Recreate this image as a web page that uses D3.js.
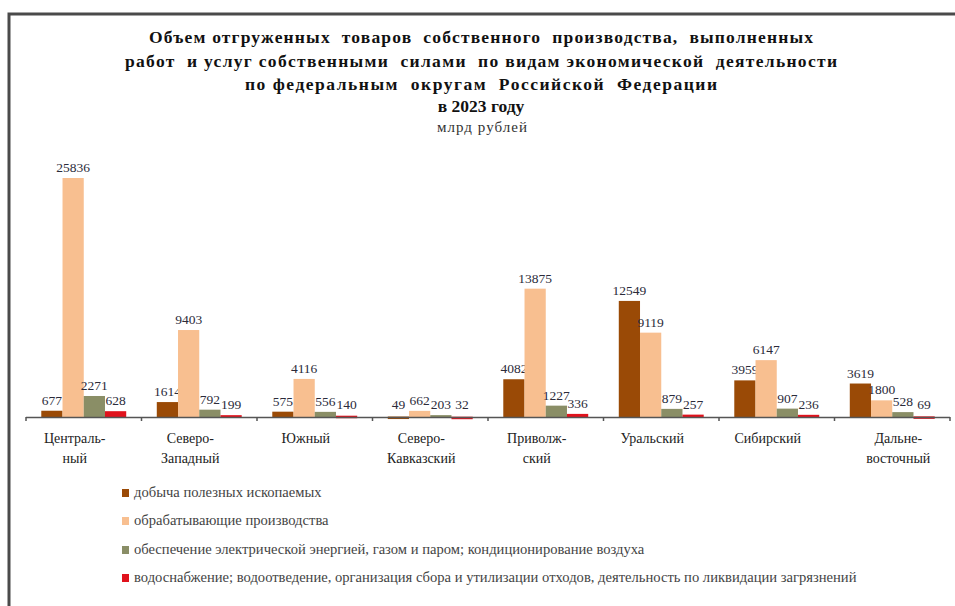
<!DOCTYPE html>
<html><head><meta charset="utf-8">
<script src="https://cdn.jsdelivr.net/npm/d3@7"></script>
<style>
html,body{margin:0;padding:0;background:#fff;}
svg{display:block;}
</style></head>
<body>
<svg id="chart" width="955" height="606"></svg>
<script>
const categories = ["Центральный","Северо-Западный","Южный","Северо-Кавказский","Приволжский","Уральский","Сибирский","Дальневосточный"];
const categoryLabels = [["Централь-","ный"],["Северо-","Западный"],["Южный"],["Северо-","Кавказский"],["Приволж-","ский"],["Уральский"],["Сибирский"],["Дальне-","восточный"]];
const seriesNames = [
  "добыча полезных ископаемых",
  "обрабатывающие производства",
  "обеспечение электрической энергией, газом и паром; кондиционирование воздуха",
  "водоснабжение; водоотведение, организация сбора и утилизации отходов, деятельность по ликвидации загрязнений"
];
const mining        = [677, 1614, 575, 49, 4082, 12549, 3959, 3619];
const manufacturing = [25836, 9403, 4116, 662, 13875, 9119, 6147, 1800];
const energy        = [2271, 792, 556, 203, 1227, 879, 907, 528];
const water         = [628, 199, 140, 32, 336, 257, 236, 69];
const seriesValues = [mining, manufacturing, energy, water];
const colors = ["#9a4a06", "#f8bf90", "#8a8e66", "#e0121c"];
const titleLines = [
  "Объем отгруженных  товаров  собственного  производства,  выполненных",
  "работ  и услуг собственными  силами  по видам экономической  деятельности",
  "по федеральным  округам  Российской  Федерации",
  "в 2023 году"
];
const unitLabel = "млрд рублей";

const svg = d3.select("#chart");
const serif = "'Liberation Serif','DejaVu Serif',serif";

// frame
svg.append("path").attr("d","M9,606 L9,14 L955,14").attr("fill","none").attr("stroke","#4a4a4a").attr("stroke-width",3);

// title
const tY = [43, 67, 90, 112];
const tW = [664, 712, 472, null];
titleLines.forEach((t,i)=>{
  const el = svg.append("text").attr("x",481).attr("y",tY[i]).attr("text-anchor","middle")
    .attr("font-family",serif).attr("font-weight","bold").attr("font-size",17.5)
    .attr("fill","#111").attr("xml:space","preserve").style("white-space","pre").text(t);
  if (tW[i]) el.attr("textLength", tW[i]).attr("lengthAdjust","spacing");
});
svg.append("text").attr("x",482).attr("y",132).attr("text-anchor","middle")
  .attr("font-family",serif).attr("font-size",15).attr("fill","#333")
  .attr("textLength",90).attr("lengthAdjust","spacing").text(unitLabel);

// scales
const x0 = d3.scaleBand().domain(categories).range([26, 950]).paddingInner(0).paddingOuter(0);
const x1 = d3.scaleBand().domain(d3.range(4)).range([0, x0.bandwidth()]).paddingInner(0).paddingOuter(0.72);
const y = d3.scaleLinear().domain([0, 30000]).range([417, 139.5]);

// bars
const g = svg.append("g");
categories.forEach((c, ci)=>{
  const grp = g.append("g").attr("transform",`translate(${x0(c)},0)`);
  seriesValues.forEach((vals, si)=>{
    const v = vals[ci];
    grp.append("rect").attr("x", x1(si)).attr("width", x1.bandwidth())
      .attr("y", y(v)).attr("height", Math.max(y(0)-y(v), 2.5))
      .attr("fill", colors[si]);
    grp.append("text").attr("x", x1(si)+x1.bandwidth()/2).attr("y", Math.min(y(v), y(0)-2.5)-6)
      .attr("text-anchor","middle").attr("font-family",serif).attr("font-size",13.5)
      .attr("fill","#2b2b3a").text(v);
  });
});

// axis line + boundary ticks
svg.append("line").attr("x1",26).attr("x2",950).attr("y1",417.5).attr("y2",417.5).attr("stroke","#555").attr("stroke-width",1.5);
const bounds = categories.map(c=>x0(c)).concat([x0.range()[1]]);
svg.selectAll(".btick").data(bounds).enter().append("line")
  .attr("x1",d=>d).attr("x2",d=>d).attr("y1",417).attr("y2",421).attr("stroke","#555").attr("stroke-width",1.5);

// category labels
const xAxis = d3.axisBottom(x0).tickSize(0).tickFormat("");
const ax = svg.append("g").attr("transform","translate(0,417)").call(xAxis);
ax.select(".domain").remove();
const labelShift = -9;
categories.forEach((c, ci)=>{
  const t = svg.append("text").attr("text-anchor","middle").attr("font-family",serif)
    .attr("font-size",14).attr("fill","#222");
  categoryLabels[ci].forEach((ln, li)=>{
    t.append("tspan").attr("x", x0(c)+x0.bandwidth()/2 + (ci === categories.length-1 ? 6 : labelShift))
      .attr("y", 443 + li*19.5).text(ln);
  });
});

// legend
const legY = [493, 521, 550, 578];
seriesNames.forEach((n, i)=>{
  svg.append("rect").attr("x",122).attr("y",legY[i]-4).attr("width",7).attr("height",8).attr("fill",colors[i]);
  svg.append("text").attr("x",134).attr("y",legY[i]+4).attr("font-family",serif).attr("font-size",14.6)
    .attr("fill","#444").text(n);
});
</script>
</body></html>
